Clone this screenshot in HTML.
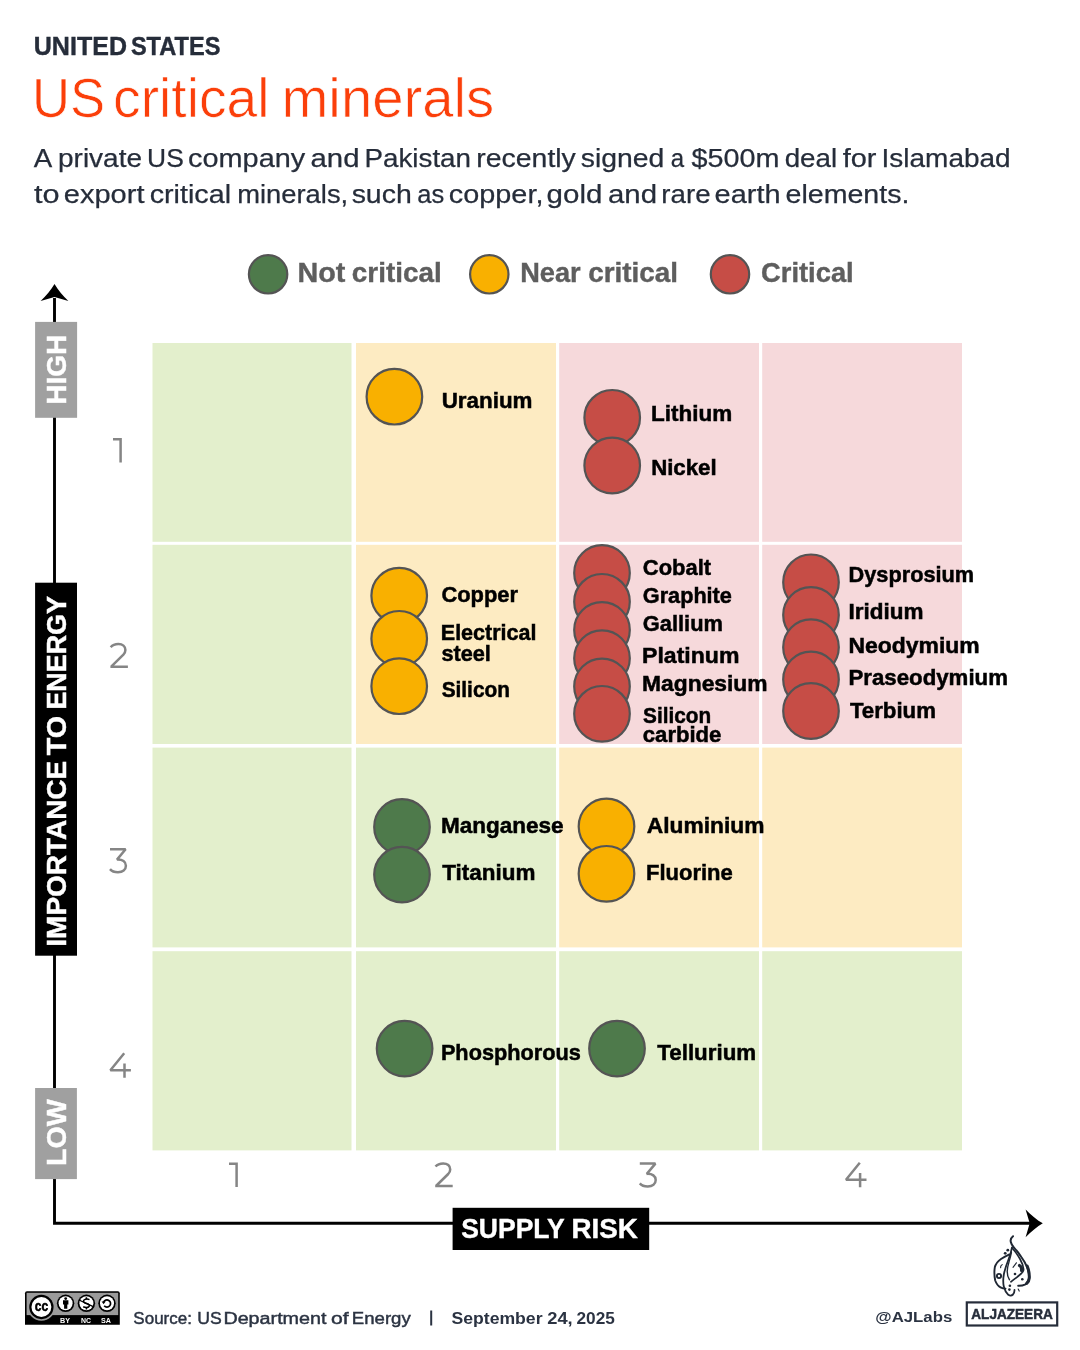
<!DOCTYPE html>
    <html><head><meta charset="utf-8"><title>US critical minerals</title>
    <style>
    html,body{margin:0;padding:0;background:#fff;width:1080px;height:1350px;overflow:hidden}
    svg{display:block;font-family:"Liberation Sans",sans-serif;will-change:transform}
    </style></head><body>
    <svg width="1080" height="1350" viewBox="0 0 1080 1350">
    <rect x="0" y="0" width="1080" height="1350" fill="#fff"/>
<text x="33.80" y="54.60" font-size="25.15" font-weight="bold" fill="#262d3a" textLength="93.16" lengthAdjust="spacingAndGlyphs" stroke="#262d3a" stroke-width="0.4">UNITED</text>
<text x="130.89" y="54.60" font-size="25.15" font-weight="bold" fill="#262d3a" textLength="89.57" lengthAdjust="spacingAndGlyphs" stroke="#262d3a" stroke-width="0.4">STATES</text>
<text x="32.09" y="116.80" font-size="54.94" font-weight="normal" fill="#fb3f0a" textLength="73.10" lengthAdjust="spacingAndGlyphs" stroke="#fff" stroke-width="0.7">US</text>
<text x="113.09" y="116.80" font-size="54.94" font-weight="normal" fill="#fb3f0a" textLength="156.42" lengthAdjust="spacingAndGlyphs" stroke="#fff" stroke-width="0.7">critical</text>
<text x="281.46" y="116.80" font-size="54.94" font-weight="normal" fill="#fb3f0a" textLength="212.83" lengthAdjust="spacingAndGlyphs" stroke="#fff" stroke-width="0.7">minerals</text>
<text x="33.70" y="166.90" font-size="26.40" font-weight="normal" fill="#262d3a" textLength="18.49" lengthAdjust="spacingAndGlyphs" stroke="#262d3a" stroke-width="0.25">A</text>
<text x="58.04" y="166.90" font-size="26.40" font-weight="normal" fill="#262d3a" textLength="83.92" lengthAdjust="spacingAndGlyphs" stroke="#262d3a" stroke-width="0.25">private</text>
<text x="147.09" y="166.90" font-size="26.40" font-weight="normal" fill="#262d3a" textLength="36.72" lengthAdjust="spacingAndGlyphs" stroke="#262d3a" stroke-width="0.25">US</text>
<text x="188.04" y="166.90" font-size="26.40" font-weight="normal" fill="#262d3a" textLength="117.18" lengthAdjust="spacingAndGlyphs" stroke="#262d3a" stroke-width="0.25">company</text>
<text x="310.53" y="166.90" font-size="26.40" font-weight="normal" fill="#262d3a" textLength="48.99" lengthAdjust="spacingAndGlyphs" stroke="#262d3a" stroke-width="0.25">and</text>
<text x="364.48" y="166.90" font-size="26.40" font-weight="normal" fill="#262d3a" textLength="106.54" lengthAdjust="spacingAndGlyphs" stroke="#262d3a" stroke-width="0.25">Pakistan</text>
<text x="476.31" y="166.90" font-size="26.40" font-weight="normal" fill="#262d3a" textLength="99.53" lengthAdjust="spacingAndGlyphs" stroke="#262d3a" stroke-width="0.25">recently</text>
<text x="580.85" y="166.90" font-size="26.40" font-weight="normal" fill="#262d3a" textLength="83.55" lengthAdjust="spacingAndGlyphs" stroke="#262d3a" stroke-width="0.25">signed</text>
<text x="670.74" y="166.90" font-size="26.40" font-weight="normal" fill="#262d3a" textLength="13.37" lengthAdjust="spacingAndGlyphs" stroke="#262d3a" stroke-width="0.25">a</text>
<text x="691.41" y="166.90" font-size="26.40" font-weight="normal" fill="#262d3a" textLength="88.04" lengthAdjust="spacingAndGlyphs" stroke="#262d3a" stroke-width="0.25">$500m</text>
<text x="784.69" y="166.90" font-size="26.40" font-weight="normal" fill="#262d3a" textLength="52.47" lengthAdjust="spacingAndGlyphs" stroke="#262d3a" stroke-width="0.25">deal</text>
<text x="842.71" y="166.90" font-size="26.40" font-weight="normal" fill="#262d3a" textLength="33.78" lengthAdjust="spacingAndGlyphs" stroke="#262d3a" stroke-width="0.25">for</text>
<text x="881.58" y="166.90" font-size="26.40" font-weight="normal" fill="#262d3a" textLength="129.11" lengthAdjust="spacingAndGlyphs" stroke="#262d3a" stroke-width="0.25">Islamabad</text>
<text x="34.09" y="203.00" font-size="26.40" font-weight="normal" fill="#262d3a" textLength="25.56" lengthAdjust="spacingAndGlyphs" stroke="#262d3a" stroke-width="0.25">to</text>
<text x="63.84" y="203.00" font-size="26.40" font-weight="normal" fill="#262d3a" textLength="80.63" lengthAdjust="spacingAndGlyphs" stroke="#262d3a" stroke-width="0.25">export</text>
<text x="149.65" y="203.00" font-size="26.40" font-weight="normal" fill="#262d3a" textLength="81.37" lengthAdjust="spacingAndGlyphs" stroke="#262d3a" stroke-width="0.25">critical</text>
<text x="237.29" y="203.00" font-size="26.40" font-weight="normal" fill="#262d3a" textLength="110.88" lengthAdjust="spacingAndGlyphs" stroke="#262d3a" stroke-width="0.25">minerals,</text>
<text x="351.65" y="203.00" font-size="26.40" font-weight="normal" fill="#262d3a" textLength="60.13" lengthAdjust="spacingAndGlyphs" stroke="#262d3a" stroke-width="0.25">such</text>
<text x="417.28" y="203.00" font-size="26.40" font-weight="normal" fill="#262d3a" textLength="26.95" lengthAdjust="spacingAndGlyphs" stroke="#262d3a" stroke-width="0.25">as</text>
<text x="448.85" y="203.00" font-size="26.40" font-weight="normal" fill="#262d3a" textLength="94.56" lengthAdjust="spacingAndGlyphs" stroke="#262d3a" stroke-width="0.25">copper,</text>
<text x="546.62" y="203.00" font-size="26.40" font-weight="normal" fill="#262d3a" textLength="55.77" lengthAdjust="spacingAndGlyphs" stroke="#262d3a" stroke-width="0.25">gold</text>
<text x="608.03" y="203.00" font-size="26.40" font-weight="normal" fill="#262d3a" textLength="48.99" lengthAdjust="spacingAndGlyphs" stroke="#262d3a" stroke-width="0.25">and</text>
<text x="661.36" y="203.00" font-size="26.40" font-weight="normal" fill="#262d3a" textLength="49.17" lengthAdjust="spacingAndGlyphs" stroke="#262d3a" stroke-width="0.25">rare</text>
<text x="714.64" y="203.00" font-size="26.40" font-weight="normal" fill="#262d3a" textLength="65.86" lengthAdjust="spacingAndGlyphs" stroke="#262d3a" stroke-width="0.25">earth</text>
<text x="785.56" y="203.00" font-size="26.40" font-weight="normal" fill="#262d3a" textLength="123.87" lengthAdjust="spacingAndGlyphs" stroke="#262d3a" stroke-width="0.25">elements.</text>
<circle cx="268.1" cy="274.3" r="19.2" fill="#4e7a4b" stroke="#545454" stroke-width="2.2"/>
<circle cx="489.3" cy="274.3" r="19.2" fill="#f9b000" stroke="#545454" stroke-width="2.2"/>
<circle cx="730.0" cy="274.3" r="19.2" fill="#c64d46" stroke="#545454" stroke-width="2.2"/>
<text x="297.49" y="282.30" font-size="27.03" font-weight="bold" fill="#5e5e5e" textLength="47.87" lengthAdjust="spacingAndGlyphs" stroke="#5e5e5e" stroke-width="0.4">Not</text>
<text x="351.89" y="282.30" font-size="27.03" font-weight="bold" fill="#5e5e5e" textLength="89.78" lengthAdjust="spacingAndGlyphs" stroke="#5e5e5e" stroke-width="0.4">critical</text>
<text x="520.20" y="282.30" font-size="27.03" font-weight="bold" fill="#5e5e5e" textLength="60.37" lengthAdjust="spacingAndGlyphs" stroke="#5e5e5e" stroke-width="0.4">Near</text>
<text x="588.29" y="282.30" font-size="27.03" font-weight="bold" fill="#5e5e5e" textLength="89.78" lengthAdjust="spacingAndGlyphs" stroke="#5e5e5e" stroke-width="0.4">critical</text>
<text x="761.01" y="282.30" font-size="27.03" font-weight="bold" fill="#5e5e5e" textLength="92.71" lengthAdjust="spacingAndGlyphs" stroke="#5e5e5e" stroke-width="0.4">Critical</text>
<rect x="152.5" y="343.0" width="199.0" height="198.8" fill="#e3efcc"/>
<rect x="356.0" y="343.0" width="200.0" height="198.8" fill="#fdebc2"/>
<rect x="559.2" y="343.0" width="199.8" height="198.8" fill="#f6d9db"/>
<rect x="762.2" y="343.0" width="199.8" height="198.8" fill="#f6d9db"/>
<rect x="152.5" y="544.8" width="199.0" height="199.2" fill="#e3efcc"/>
<rect x="356.0" y="544.8" width="200.0" height="199.2" fill="#fdebc2"/>
<rect x="559.2" y="544.8" width="199.8" height="199.2" fill="#f6d9db"/>
<rect x="762.2" y="544.8" width="199.8" height="199.2" fill="#f6d9db"/>
<rect x="152.5" y="747.6" width="199.0" height="199.8" fill="#e3efcc"/>
<rect x="356.0" y="747.6" width="200.0" height="199.8" fill="#e3efcc"/>
<rect x="559.2" y="747.6" width="199.8" height="199.8" fill="#fdebc2"/>
<rect x="762.2" y="747.6" width="199.8" height="199.8" fill="#fdebc2"/>
<rect x="152.5" y="951.2" width="199.0" height="199.2" fill="#e3efcc"/>
<rect x="356.0" y="951.2" width="200.0" height="199.2" fill="#e3efcc"/>
<rect x="559.2" y="951.2" width="199.8" height="199.2" fill="#e3efcc"/>
<rect x="762.2" y="951.2" width="199.8" height="199.2" fill="#e3efcc"/>
<circle cx="394.4" cy="396.7" r="27.8" fill="#f9b000" stroke="#545454" stroke-width="2.2"/>
<circle cx="612.2" cy="417.8" r="27.8" fill="#c64d46" stroke="#545454" stroke-width="2.2"/>
<circle cx="612.2" cy="465.5" r="27.8" fill="#c64d46" stroke="#545454" stroke-width="2.2"/>
<circle cx="399.2" cy="595.7" r="27.8" fill="#f9b000" stroke="#545454" stroke-width="2.2"/>
<circle cx="399.2" cy="638.8" r="27.8" fill="#f9b000" stroke="#545454" stroke-width="2.2"/>
<circle cx="399.2" cy="686.2" r="27.8" fill="#f9b000" stroke="#545454" stroke-width="2.2"/>
<circle cx="602.0" cy="573.0" r="27.8" fill="#c64d46" stroke="#545454" stroke-width="2.2"/>
<circle cx="602.0" cy="601.8" r="27.8" fill="#c64d46" stroke="#545454" stroke-width="2.2"/>
<circle cx="602.0" cy="630.0" r="27.8" fill="#c64d46" stroke="#545454" stroke-width="2.2"/>
<circle cx="602.0" cy="658.2" r="27.8" fill="#c64d46" stroke="#545454" stroke-width="2.2"/>
<circle cx="602.0" cy="686.4" r="27.8" fill="#c64d46" stroke="#545454" stroke-width="2.2"/>
<circle cx="602.0" cy="713.8" r="27.8" fill="#c64d46" stroke="#545454" stroke-width="2.2"/>
<circle cx="811.0" cy="582.3" r="27.8" fill="#c64d46" stroke="#545454" stroke-width="2.2"/>
<circle cx="811.0" cy="615.0" r="27.8" fill="#c64d46" stroke="#545454" stroke-width="2.2"/>
<circle cx="811.0" cy="647.2" r="27.8" fill="#c64d46" stroke="#545454" stroke-width="2.2"/>
<circle cx="811.0" cy="679.5" r="27.8" fill="#c64d46" stroke="#545454" stroke-width="2.2"/>
<circle cx="811.0" cy="711.0" r="27.8" fill="#c64d46" stroke="#545454" stroke-width="2.2"/>
<circle cx="402.0" cy="826.9" r="27.8" fill="#4e7a4b" stroke="#545454" stroke-width="2.2"/>
<circle cx="402.0" cy="874.6" r="27.8" fill="#4e7a4b" stroke="#545454" stroke-width="2.2"/>
<circle cx="606.5" cy="826.5" r="27.8" fill="#f9b000" stroke="#545454" stroke-width="2.2"/>
<circle cx="606.5" cy="873.8" r="27.8" fill="#f9b000" stroke="#545454" stroke-width="2.2"/>
<circle cx="404.6" cy="1048.6" r="27.8" fill="#4e7a4b" stroke="#545454" stroke-width="2.2"/>
<circle cx="617.0" cy="1048.6" r="27.8" fill="#4e7a4b" stroke="#545454" stroke-width="2.2"/>
<text x="441.66" y="407.90" font-size="22.30" font-weight="bold" fill="#000" textLength="90.83" lengthAdjust="spacingAndGlyphs" stroke="#000" stroke-width="0.5">Uranium</text>
<text x="651.12" y="421.30" font-size="22.30" font-weight="bold" fill="#000" textLength="81.24" lengthAdjust="spacingAndGlyphs" stroke="#000" stroke-width="0.5">Lithium</text>
<text x="651.14" y="475.00" font-size="22.30" font-weight="bold" fill="#000" textLength="65.56" lengthAdjust="spacingAndGlyphs" stroke="#000" stroke-width="0.5">Nickel</text>
<text x="441.43" y="601.90" font-size="22.30" font-weight="bold" fill="#000" textLength="76.51" lengthAdjust="spacingAndGlyphs" stroke="#000" stroke-width="0.5">Copper</text>
<text x="440.79" y="639.50" font-size="22.30" font-weight="bold" fill="#000" textLength="95.65" lengthAdjust="spacingAndGlyphs" stroke="#000" stroke-width="0.5">Electrical</text>
<text x="441.43" y="660.60" font-size="22.30" font-weight="bold" fill="#000" textLength="49.37" lengthAdjust="spacingAndGlyphs" stroke="#000" stroke-width="0.5">steel</text>
<text x="441.68" y="696.70" font-size="22.30" font-weight="bold" fill="#000" textLength="68.24" lengthAdjust="spacingAndGlyphs" stroke="#000" stroke-width="0.5">Silicon</text>
<text x="642.82" y="574.60" font-size="22.30" font-weight="bold" fill="#000" textLength="68.22" lengthAdjust="spacingAndGlyphs" stroke="#000" stroke-width="0.5">Cobalt</text>
<text x="642.83" y="603.20" font-size="22.30" font-weight="bold" fill="#000" textLength="89.06" lengthAdjust="spacingAndGlyphs" stroke="#000" stroke-width="0.5">Graphite</text>
<text x="642.83" y="631.40" font-size="22.30" font-weight="bold" fill="#000" textLength="80.15" lengthAdjust="spacingAndGlyphs" stroke="#000" stroke-width="0.5">Gallium</text>
<text x="642.09" y="662.50" font-size="22.30" font-weight="bold" fill="#000" textLength="97.36" lengthAdjust="spacingAndGlyphs" stroke="#000" stroke-width="0.5">Platinum</text>
<text x="642.10" y="690.70" font-size="22.30" font-weight="bold" fill="#000" textLength="125.49" lengthAdjust="spacingAndGlyphs" stroke="#000" stroke-width="0.5">Magnesium</text>
<text x="643.08" y="722.80" font-size="22.30" font-weight="bold" fill="#000" textLength="68.04" lengthAdjust="spacingAndGlyphs" stroke="#000" stroke-width="0.5">Silicon</text>
<text x="642.82" y="742.20" font-size="22.30" font-weight="bold" fill="#000" textLength="78.61" lengthAdjust="spacingAndGlyphs" stroke="#000" stroke-width="0.5">carbide</text>
<text x="848.58" y="581.70" font-size="22.30" font-weight="bold" fill="#000" textLength="125.51" lengthAdjust="spacingAndGlyphs" stroke="#000" stroke-width="0.5">Dysprosium</text>
<text x="848.52" y="619.40" font-size="22.30" font-weight="bold" fill="#000" textLength="75.01" lengthAdjust="spacingAndGlyphs" stroke="#000" stroke-width="0.5">Iridium</text>
<text x="848.49" y="652.80" font-size="22.30" font-weight="bold" fill="#000" textLength="131.26" lengthAdjust="spacingAndGlyphs" stroke="#000" stroke-width="0.5">Neodymium</text>
<text x="848.54" y="685.40" font-size="22.30" font-weight="bold" fill="#000" textLength="159.38" lengthAdjust="spacingAndGlyphs" stroke="#000" stroke-width="0.5">Praseodymium</text>
<text x="849.88" y="717.90" font-size="22.30" font-weight="bold" fill="#000" textLength="86.07" lengthAdjust="spacingAndGlyphs" stroke="#000" stroke-width="0.5">Terbium</text>
<text x="440.92" y="833.20" font-size="22.30" font-weight="bold" fill="#000" textLength="122.60" lengthAdjust="spacingAndGlyphs" stroke="#000" stroke-width="0.5">Manganese</text>
<text x="442.28" y="879.60" font-size="22.30" font-weight="bold" fill="#000" textLength="93.24" lengthAdjust="spacingAndGlyphs" stroke="#000" stroke-width="0.5">Titanium</text>
<text x="646.82" y="833.20" font-size="22.30" font-weight="bold" fill="#000" textLength="117.70" lengthAdjust="spacingAndGlyphs" stroke="#000" stroke-width="0.5">Aluminium</text>
<text x="645.96" y="879.60" font-size="22.30" font-weight="bold" fill="#000" textLength="86.80" lengthAdjust="spacingAndGlyphs" stroke="#000" stroke-width="0.5">Fluorine</text>
<text x="440.88" y="1059.90" font-size="22.30" font-weight="bold" fill="#000" textLength="139.98" lengthAdjust="spacingAndGlyphs" stroke="#000" stroke-width="0.5">Phosphorous</text>
<text x="657.28" y="1059.90" font-size="22.30" font-weight="bold" fill="#000" textLength="98.91" lengthAdjust="spacingAndGlyphs" stroke="#000" stroke-width="0.5">Tellurium</text>
<path d="M113.00,439.30 L120.60,439.30 M120.60,438.10 L120.60,462.60" fill="none" stroke="#858585" stroke-width="2.5" stroke-linejoin="bevel"/>
<path d="M110.70,647.20 C112.40,645.20 115.00,644.10 118.40,644.10 C122.60,644.10 125.40,646.50 125.40,650.10 C125.40,651.80 124.80,653.20 123.40,654.70 L111.20,666.70 M110.40,666.70 L127.90,666.70" fill="none" stroke="#858585" stroke-width="2.5" stroke-linejoin="bevel"/>
<path d="M110.00,849.30 L125.60,849.30 L117.00,859.60 C122.60,859.30 125.90,861.80 125.90,865.80 C125.90,870.00 122.60,872.20 118.00,872.20 C114.20,872.20 111.60,871.00 110.00,869.10" fill="none" stroke="#858585" stroke-width="2.5" stroke-linejoin="bevel"/>
<path d="M124.20,1053.30 L110.40,1070.30 L130.90,1070.30 M124.50,1063.60 L124.50,1077.70" fill="none" stroke="#858585" stroke-width="2.5" stroke-linejoin="bevel"/>
<path d="M229.00,1163.70 L236.60,1163.70 M236.60,1162.50 L236.60,1187.00" fill="none" stroke="#858585" stroke-width="2.5" stroke-linejoin="bevel"/>
<path d="M435.50,1166.50 C437.20,1164.50 439.80,1163.40 443.20,1163.40 C447.40,1163.40 450.20,1165.80 450.20,1169.40 C450.20,1171.10 449.60,1172.50 448.20,1174.00 L436.00,1186.00 M435.20,1186.00 L452.70,1186.00" fill="none" stroke="#858585" stroke-width="2.5" stroke-linejoin="bevel"/>
<path d="M639.80,1163.60 L655.40,1163.60 L646.80,1173.90 C652.40,1173.60 655.70,1176.10 655.70,1180.10 C655.70,1184.30 652.40,1186.50 647.80,1186.50 C644.00,1186.50 641.40,1185.30 639.80,1183.40" fill="none" stroke="#858585" stroke-width="2.5" stroke-linejoin="bevel"/>
<path d="M859.80,1162.80 L846.00,1179.80 L866.50,1179.80 M860.10,1173.10 L860.10,1187.20" fill="none" stroke="#858585" stroke-width="2.5" stroke-linejoin="bevel"/>
<path d="M54.5,298 V1223.3 H1032" fill="none" stroke="#000" stroke-width="2.9" stroke-linejoin="miter"/>
<path transform="translate(54.5,283.9) rotate(-90)" d="M0,0 C-5.5,-3.2 -12,-8.5 -17.2,-13.9 L-13.1,0 L-17.2,13.9 C-12,8.5 -5.5,3.2 0,0 Z" fill="#000"/>
<path transform="translate(1042.8,1223.3)" d="M0,0 C-5.5,-3.2 -12,-8.5 -17.2,-13.9 L-13.1,0 L-17.2,13.9 C-12,8.5 -5.5,3.2 0,0 Z" fill="#000"/>
<rect x="35.1" y="321.9" width="42.0" height="95.9" fill="#a0a0a0"/>
<text transform="translate(65.60,404.76) rotate(-90)" x="0" y="0" font-size="27.47" font-weight="bold" fill="#fff" textLength="70.02" lengthAdjust="spacingAndGlyphs" stroke="#fff" stroke-width="0.45">HIGH</text>
<rect x="35.1" y="582.7" width="41.9" height="373.0" fill="#000"/>
<text transform="translate(65.70,946.66) rotate(-90)" x="0" y="0" font-size="27.62" font-weight="bold" fill="#fff" textLength="185.82" lengthAdjust="spacingAndGlyphs" stroke="#fff" stroke-width="0.45">IMPORTANCE</text>
<text transform="translate(65.70,755.29) rotate(-90)" x="0" y="0" font-size="27.62" font-weight="bold" fill="#fff" textLength="39.35" lengthAdjust="spacingAndGlyphs" stroke="#fff" stroke-width="0.45">TO</text>
<text transform="translate(65.70,709.58) rotate(-90)" x="0" y="0" font-size="27.62" font-weight="bold" fill="#fff" textLength="113.51" lengthAdjust="spacingAndGlyphs" stroke="#fff" stroke-width="0.45">ENERGY</text>
<rect x="35.1" y="1088.0" width="41.8" height="91.1" fill="#a0a0a0"/>
<text transform="translate(65.60,1166.00) rotate(-90)" x="0" y="0" font-size="27.91" font-weight="bold" fill="#fff" textLength="66.68" lengthAdjust="spacingAndGlyphs" stroke="#fff" stroke-width="0.45">LOW</text>
<rect x="452.6" y="1207.8" width="196.6" height="42.2" fill="#000"/>
<text x="461.20" y="1238.20" font-size="27.33" font-weight="bold" fill="#fff" textLength="103.60" lengthAdjust="spacingAndGlyphs" stroke="#fff" stroke-width="0.4">SUPPLY</text>
<text x="571.45" y="1238.20" font-size="27.33" font-weight="bold" fill="#fff" textLength="66.40" lengthAdjust="spacingAndGlyphs" stroke="#fff" stroke-width="0.4">RISK</text>
<text x="133.35" y="1323.60" font-size="17.30" font-weight="normal" fill="#2b3342" textLength="58.59" lengthAdjust="spacingAndGlyphs" stroke="#2b3342" stroke-width="0.45">Source:</text>
<text x="197.19" y="1323.60" font-size="17.30" font-weight="normal" fill="#2b3342" textLength="24.48" lengthAdjust="spacingAndGlyphs" stroke="#2b3342" stroke-width="0.45">US</text>
<text x="223.42" y="1323.60" font-size="17.30" font-weight="normal" fill="#2b3342" textLength="103.07" lengthAdjust="spacingAndGlyphs" stroke="#2b3342" stroke-width="0.45">Department</text>
<text x="331.05" y="1323.60" font-size="17.30" font-weight="normal" fill="#2b3342" textLength="17.63" lengthAdjust="spacingAndGlyphs" stroke="#2b3342" stroke-width="0.45">of</text>
<text x="351.81" y="1323.60" font-size="17.30" font-weight="normal" fill="#2b3342" textLength="58.95" lengthAdjust="spacingAndGlyphs" stroke="#2b3342" stroke-width="0.45">Energy</text>
<rect x="430.2" y="1310.5" width="2.0" height="15" fill="#2b3342"/>
<text x="451.47" y="1323.60" font-size="17.30" font-weight="bold" fill="#2b3342" textLength="91.06" lengthAdjust="spacingAndGlyphs" >September</text>
<text x="547.25" y="1323.60" font-size="17.30" font-weight="bold" fill="#2b3342" textLength="25.43" lengthAdjust="spacingAndGlyphs" >24,</text>
<text x="576.48" y="1323.60" font-size="17.30" font-weight="bold" fill="#2b3342" textLength="38.34" lengthAdjust="spacingAndGlyphs" >2025</text>
<text x="875.29" y="1322.10" font-size="15.26" font-weight="bold" fill="#2b3342" textLength="76.94" lengthAdjust="spacingAndGlyphs" >@AJLabs</text>
<rect x="966.8" y="1302.4" width="90.4" height="23.1" fill="none" stroke="#262d3a" stroke-width="2.2"/>
<text x="971.29" y="1319.00" font-size="15.26" font-weight="bold" fill="#262d3a" textLength="81.52" lengthAdjust="spacingAndGlyphs" stroke="#262d3a" stroke-width="0.5">ALJAZEERA</text>
<g>
<path d="M27,1291.2 H117.8 Q119.8,1291.2 119.8,1293.2 V1324.8 H25 V1293.2 Q25,1291.2 27,1291.2 Z" fill="#000"/>
<rect x="26.6" y="1292.8" width="91.6" height="22.3" fill="#9b9b9b"/>
<circle cx="41.4" cy="1307" r="13.7" fill="#9b9b9b"/>
<circle cx="41.4" cy="1307" r="12.15" fill="#000"/>
<circle cx="41.4" cy="1307" r="9.95" fill="#fff"/>
<text x="41.45" y="1310.9" font-size="14.4" font-weight="bold" fill="#000" stroke="#000" stroke-width="0.5" text-anchor="middle" textLength="13.4" lengthAdjust="spacingAndGlyphs">cc</text>
<circle cx="65.6" cy="1303.3" r="8.7" fill="#000"/>
<circle cx="65.6" cy="1303.3" r="7.0" fill="#fff"/>
<circle cx="86.4" cy="1303.3" r="8.7" fill="#000"/>
<circle cx="86.4" cy="1303.3" r="7.0" fill="#fff"/>
<circle cx="107.0" cy="1303.3" r="8.7" fill="#000"/>
<circle cx="107.0" cy="1303.3" r="7.0" fill="#fff"/>
<circle cx="65.7" cy="1298.6" r="1.4" fill="#000"/>
<path d="M63,1300.3 H68.4 V1304.6 H67.3 V1308.8 H64.1 V1304.6 H63 Z" fill="#000"/>
<path d="M89.5,1299.6 Q86.4,1298.4 84,1300 Q82.6,1301.6 85,1303 L88,1304 Q90.4,1305.3 88.6,1307 Q86.2,1308.2 83.2,1306.8" fill="none" stroke="#000" stroke-width="1.5"/>
<path d="M86.4,1297.2 V1299.2 M86.4,1307.6 V1309.6" stroke="#000" stroke-width="1.5"/>
<path d="M79,1300 L93.8,1306.8" stroke="#000" stroke-width="1.3"/>
<path d="M103.6,1302.2 A3.6,3.6 0 1 1 104.2,1305.8" fill="none" stroke="#000" stroke-width="1.7"/>
<path d="M101.6,1301.4 L105.6,1301.4 L103.6,1304.2 Z" fill="#000"/>
<text x="65.1" y="1322.7" font-size="7.8" font-weight="bold" fill="#fff" text-anchor="middle" textLength="10" lengthAdjust="spacingAndGlyphs">BY</text>
<text x="86.0" y="1322.7" font-size="7.8" font-weight="bold" fill="#fff" text-anchor="middle" textLength="10" lengthAdjust="spacingAndGlyphs">NC</text>
<text x="106.0" y="1322.7" font-size="7.8" font-weight="bold" fill="#fff" text-anchor="middle" textLength="10" lengthAdjust="spacingAndGlyphs">SA</text>
</g>
<g transform="translate(985,1230)" fill="none" stroke="#1f2733" stroke-linecap="round" stroke-linejoin="round">
<path d="M28,6.2 Q25,8.5 25.8,12 Q26.5,15 29,17.6 Q33,22 36.3,27 Q40,32 42,37 Q44.3,43 44.2,47.7 Q43.8,52 40.5,54.3 Q37,56 33.2,55.8" stroke-width="2.0"/>
<path d="M42.2,36 Q44.6,42 44.3,48 Q44,51.5 41.8,53.3" stroke-width="3.0"/>
<path d="M27,17.8 Q31.5,23 35,29 Q38.2,34.5 38.6,39.4 Q38.4,42 36.3,43.5 Q33,46.5 30,48.6 Q27.5,50.5 25.9,51.8" stroke-width="1.7"/>
<path d="M34.5,35.5 Q37,37 36.6,40.5" stroke-width="3.2"/>
<path d="M24.4,24.4 Q20,26.5 16,29 Q11,32.5 9.8,37.3 Q8.8,44 10.2,50.5 Q12,55.5 15.5,57.3 Q18,58.6 20.5,58.6" stroke-width="1.9"/>
<path d="M27,17.3 Q26,23 23.5,29.5 Q20.3,37.5 18.9,44 Q17.6,51 18.8,56.5 Q20,61.5 23.3,64.8 Q26,66.5 28,64.5 Q29.6,62.5 29.5,60" stroke-width="1.8"/>
<path d="M26.4,22.3 Q25.5,27 24.2,31.1 Q22.4,37 22.2,41.5 Q22.2,46.5 24.5,49.8" stroke-width="1.4"/>
<path d="M28,37.3 L31.4,32.8 M15.7,37.8 Q15.2,36 17.2,34.6 M33.2,59 L34.2,61.1" stroke-width="1.1"/>
<circle cx="14.0" cy="46.0" r="2.1" stroke-width="1.9"/>
</g>
<g transform="translate(985,1230)" fill="#1f2733">
<circle cx="22.8" cy="20.2" r="1.4"/>
<circle cx="20.2" cy="23.3" r="1.4"/>
<circle cx="30.0" cy="44.0" r="1.3"/>
<circle cx="37.3" cy="49.2" r="1.3"/>
<circle cx="24.9" cy="55.7" r="1.3"/>
<circle cx="24.4" cy="59.6" r="1.3"/>
</g>
    <!--CC-->
    <!--LOGO-->
    </svg>
    </body></html>
